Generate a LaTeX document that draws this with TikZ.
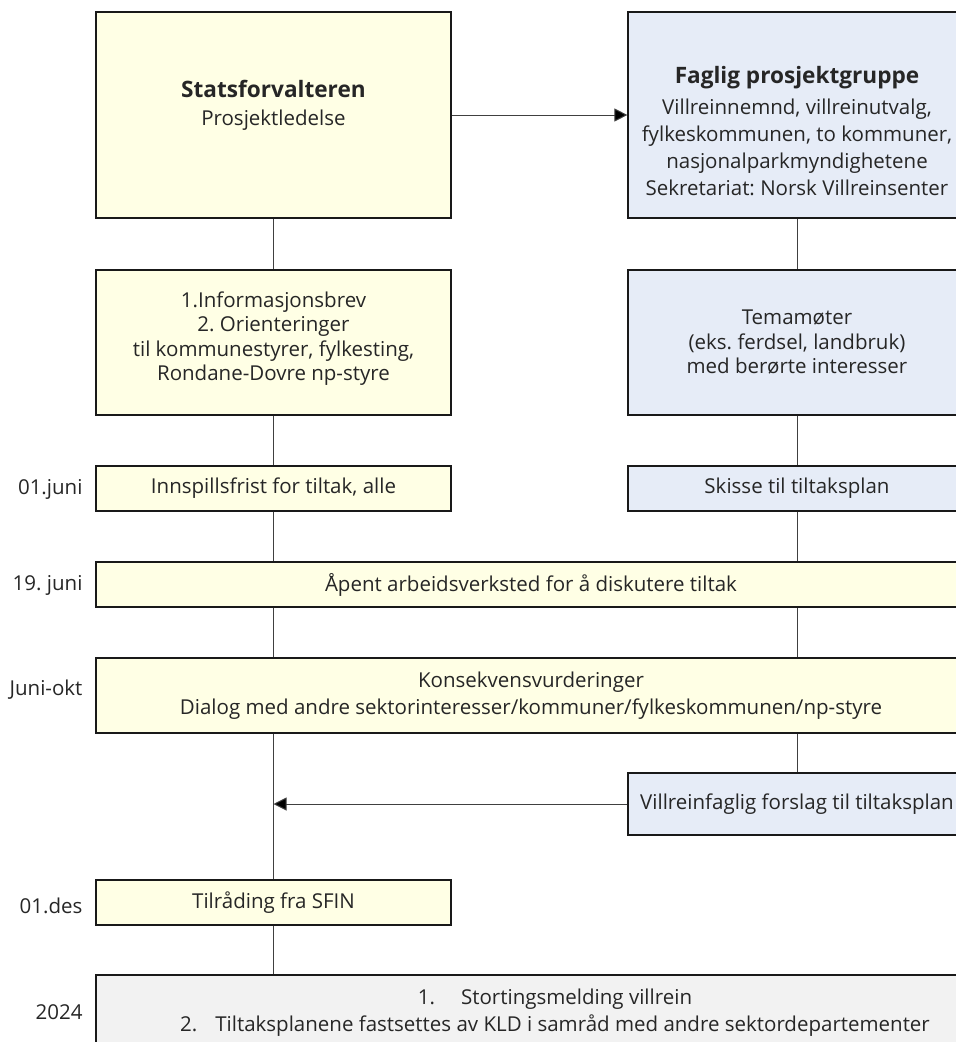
\documentclass[tikz,border=0pt]{standalone}
\usepackage{fontspec}
\setmainfont{Open Sans}
\frenchspacing
\usetikzlibrary{arrows.meta,positioning}
\definecolor{boxyellow}{RGB}{255,255,229}
\definecolor{boxblue}{RGB}{230,236,247}
\definecolor{boxgrey}{RGB}{242,242,242}
\definecolor{textgrey}{RGB}{38,38,38}
\definecolor{linegrey}{RGB}{64,64,64}
\newcommand{\tittel}[1]{{\fontsize{22.6}{30}\selectfont\bfseries #1}}

\begin{document}
\begin{tikzpicture}[x=1pt, y=-1pt, >={Triangle[length=13pt,width=13pt]},
  every node/.style={font=\fontsize{20.5}{27}\selectfont, text=textgrey},
  box/.style={draw=black!90, line width=1.2pt, align=center, inner sep=0pt},
  gul/.style={box, fill=boxyellow, minimum width=355pt},
  blaa/.style={box, fill=boxblue, minimum width=338pt},
  bred/.style={box, fill=boxyellow, minimum width=870pt},
  graa/.style={box, fill=boxgrey, minimum width=870pt},
  tett/.style={font=\fontsize{20.5}{24.5}\selectfont},
  dato/.style={anchor=east},
  link/.style={draw=linegrey, line width=1pt}]
\useasboundingbox (0,0) rectangle (956,1042);

        % boxes, left column at x=273.5, right column at x=797
        \node[gul, minimum height=206pt]  (stat)  at (273.5,115)  {\tittel{Statsforvalteren}\\[1pt]Prosjektledelse\rule[-25pt]{0pt}{1pt}};
        \node[blaa, minimum height=206pt] (fagl)  at (797,115)    {\rule{0pt}{50pt}\tittel{Faglig prosjektgruppe}\\[4pt]Villreinnemnd, villreinutvalg,\\fylkeskommunen, to kommuner,\\nasjonalparkmyndighetene\\Sekretariat: Norsk Villreinsenter};
        \node[gul, tett, minimum height=145pt]  (info)  at (273.5,342.5){1.Informasjonsbrev\\2. Orienteringer\\til kommunestyrer, fylkesting,\\Rondane-Dovre np-styre\rule[-13pt]{0pt}{1pt}};
        \node[blaa, tett, minimum height=145pt] (tema)  at (797,342.5)  {Temamøter\\(eks. ferdsel, landbruk)\\med berørte interesser};
        \node[gul, minimum height=45pt]   (frist) at (273.5,488.5){Innspillsfrist for tiltak, alle};
        \node[blaa, minimum height=45pt]  (skisse) at (797,488.5) {Skisse til tiltaksplan};
        \node[bred, minimum height=45pt]  (verk)  at (531,584.5)  {Åpent arbeidsverksted for å diskutere tiltak};
        \node[bred, minimum height=75pt]  (kons)  at (531,695.5)  {Konsekvensvurderinger\\Dialog med andre sektorinteresser/kommuner/fylkeskommunen/np-styre};
        \node[blaa, minimum height=62pt]  (forsl) at (797,804)    {Villreinfaglig forslag til tiltaksplan};
        \node[gul, minimum height=45pt]   (tilr)  at (273.5,902.5){Tilråding fra SFIN};
        \node[graa, minimum height=76pt]  (meld)  at (531,1013)   {\hspace*{48pt}1.\hspace{26pt}Stortingsmelding villrein\\\hspace*{48pt}2.\hspace{18pt}Tiltaksplanene fastsettes av KLD i samråd med andre sektordepartementer};

        % dates
        \node[dato] (d_1) at (86,489)  {01.juni};
        \node[dato] (d_2) at (86,585)  {19. juni};
        \node[dato] (d_3) at (86,690)  {Juni-okt};
        \node[dato] (d_4) at (86,906)  {01.des};
        \node[dato] (d_5) at (86,1012) {2024};

        \coordinate (inn) at (273.5,804);

        % connectors
        \path[link] (stat) -- (info)
                    (info) -- (frist)
                    (frist) -- (frist.south |- verk.north)
                    (verk.south -| frist.south) -- (kons.north -| frist.south)
                    (kons.south -| frist.south) -- (tilr)
                    (tilr) -- (tilr.south |- meld.north)
                    (fagl) -- (tema)
                    (tema) -- (skisse)
                    (skisse) -- (skisse.south |- verk.north)
                    (verk.south -| skisse.south) -- (kons.north -| skisse.south)
                    (kons.south -| skisse.south) -- (forsl);
        \path[link,->] (stat) edge (fagl)
                       (forsl) edge (inn);
\end{tikzpicture}
\end{document}
